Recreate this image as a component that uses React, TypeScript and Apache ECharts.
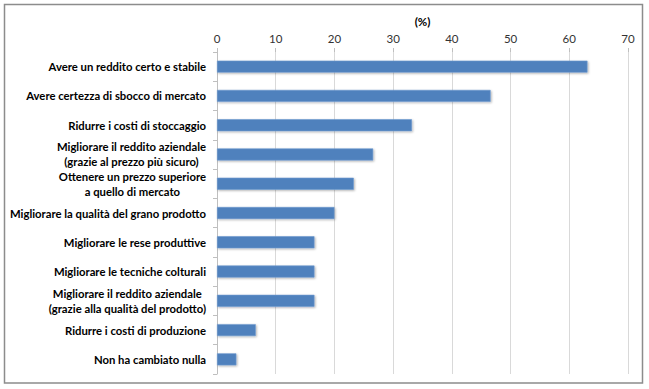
import React, { useEffect, useRef } from "react";
import * as echarts from "echarts";

const categories = [
  "Avere un reddito certo e stabile",
  "Avere certezza di sbocco di mercato",
  "Ridurre i costi di stoccaggio",
  "Migliorare il reddito aziendale\n(grazie al prezzo più sicuro)",
  "Ottenere un prezzo superiore\na quello di mercato",
  "Migliorare la qualità del grano prodotto",
  "Migliorare le rese produttive",
  "Migliorare le tecniche colturali",
  "Migliorare il reddito aziendale\n(grazie alla qualità del prodotto)",
  "Ridurre i costi di produzione",
  "Non ha cambiato nulla",
];
const values = [63.1, 46.6, 33.2, 26.6, 23.3, 20.0, 16.6, 16.6, 16.6, 6.6, 3.3];
const axisName = "(%)";

const FONT = "Lato, 'Noto Sans', sans-serif";

export default function App() {
  const ref = useRef<HTMLDivElement>(null);
  useEffect(() => {
    if (!ref.current) return;
    const chart = echarts.init(ref.current, null, { renderer: "svg" });
    chart.setOption({
      animation: false,
      backgroundColor: "#ffffff",
      grid: { left: 217, right: 21, top: 52, bottom: 15, containLabel: false },
      graphic: [
        {
          type: "rect",
          shape: { x: 4.5, y: 4.5, width: 638, height: 378.5 },
          style: { fill: "none", stroke: "#8c8c8c", lineWidth: 1.5 },
          silent: true,
        },
      ],
      xAxis: {
        type: "value",
        position: "top",
        min: 0,
        max: 70,
        interval: 10,
        name: axisName,
        nameLocation: "middle",
        nameGap: 22,
        nameTextStyle: { fontFamily: FONT, fontWeight: "bold", fontSize: 11.5, color: "#000" },
        axisLine: { show: false },
        axisTick: { show: true, length: 4, lineStyle: { color: "#bfbfbf" } },
        axisLabel: { fontFamily: FONT, fontSize: 11.5, color: "#333", margin: 8 },
        splitLine: { show: true, lineStyle: { color: "#d9d9d9", width: 1 } },
      },
      yAxis: {
        type: "category",
        inverse: true,
        data: categories,
        axisLine: { show: true, lineStyle: { color: "#bfbfbf" } },
        axisTick: { show: true, length: 4, lineStyle: { color: "#bfbfbf" } },
        axisLabel: {
          margin: 11,
          formatter: (v: string) =>
            v
              .split("\n")
              .map((l) => `{c|${l}}`)
              .join("\n"),
          rich: {
            c: {
              align: "center",
              fontFamily: FONT,
              fontWeight: "bold",
              fontSize: 11.3,
              lineHeight: 15,
              color: "#000",
            },
          },
        },
      },
      series: [
        {
          type: "bar",
          data: values,
          barWidth: 12,
          itemStyle: {
            color: "#4F81BD",
            borderColor: "#6f9bd0",
            borderWidth: 0.6,
            shadowColor: "rgba(0,0,0,0.3)",
            shadowBlur: 2,
            shadowOffsetX: 1,
            shadowOffsetY: 1,
          },
        },
      ],
    });
    return () => chart.dispose();
  }, []);
  return (
    <div
      ref={ref}
      style={{ position: "fixed", left: 0, top: 0, width: 649, height: 389, background: "#fff" }}
    />
  );
}
